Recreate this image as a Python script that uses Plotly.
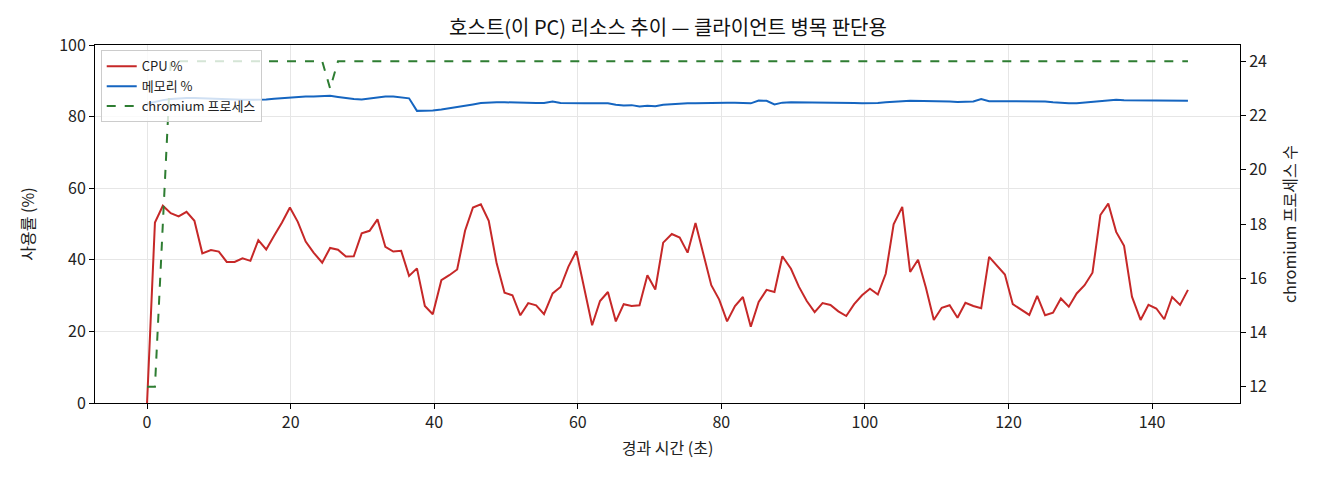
import plotly.graph_objects as go

# elapsed seconds of each sample
ELAPSED = [0.0, 1.1, 2.2, 3.3, 4.4, 5.5, 6.6, 7.7, 8.9, 10.0, 11.1, 12.2, 13.3, 14.4, 15.5, 16.6, 17.7, 18.8, 19.9, 21.0,
           22.1, 23.2, 24.4, 25.5, 26.6, 27.7, 28.8, 29.9, 31.0, 32.1, 33.2, 34.3, 35.4, 36.5, 37.6, 38.7, 39.8, 41.0, 42.1, 43.2,
           44.3, 45.4, 46.5, 47.6, 48.7, 49.8, 50.9, 52.0, 53.1, 54.2, 55.3, 56.5, 57.6, 58.7, 59.8, 60.9, 62.0, 63.1, 64.2, 65.3,
           66.4, 67.5, 68.6, 69.7, 70.8, 71.9, 73.1, 74.2, 75.3, 76.4, 77.5, 78.6, 79.7, 80.8, 81.9, 83.0, 84.1, 85.2, 86.3, 87.4,
           88.5, 89.7, 90.8, 91.9, 93.0, 94.1, 95.2, 96.3, 97.4, 98.5, 99.6, 100.7, 101.8, 102.9, 104.0, 105.2, 106.3, 107.4, 108.5, 109.6,
           110.7, 111.8, 112.9, 114.0, 115.1, 116.2, 117.3, 118.4, 119.5, 120.6, 121.8, 122.9, 124.0, 125.1, 126.2, 127.3, 128.4, 129.5, 130.6, 131.7,
           132.8, 133.9, 135.0, 136.1, 137.2, 138.4, 139.5, 140.6, 141.7, 142.8, 143.9, 145.0]

CPU = [0.0, 50.4, 55.1, 53.0, 52.1, 53.4, 50.9, 41.8, 42.7, 42.3, 39.4, 39.4, 40.4, 39.7, 45.5, 42.9, 46.7, 50.4, 54.6, 50.6,
       45.1, 42.0, 39.2, 43.3, 42.8, 40.9, 41.0, 47.4, 48.1, 51.3, 43.6, 42.3, 42.5, 35.5, 37.6, 27.1, 24.8, 34.3, 35.7, 37.3,
       48.1, 54.6, 55.5, 50.9, 39.0, 30.8, 30.1, 24.5, 27.9, 27.3, 24.8, 30.6, 32.4, 38.1, 42.4, 32.2, 21.7, 28.5, 31.0, 22.8,
       27.6, 27.1, 27.3, 35.7, 31.7, 44.8, 47.2, 46.2, 42.0, 50.3, 41.5, 32.9, 28.9, 22.8, 27.1, 29.6, 21.3, 28.2, 31.6, 31.0,
       41.0, 37.5, 32.5, 28.5, 25.4, 27.9, 27.4, 25.6, 24.3, 27.6, 30.1, 31.9, 30.3, 36.1, 49.9, 54.8, 36.6, 40.0, 32.2, 23.2,
       26.6, 27.3, 23.8, 28.0, 27.1, 26.5, 40.8, 38.3, 35.9, 27.6, 26.1, 24.6, 29.9, 24.5, 25.2, 29.2, 26.9, 30.6, 32.9, 36.4,
       52.5, 55.7, 47.8, 43.9, 29.7, 23.2, 27.4, 26.4, 23.4, 29.6, 27.4, 31.6]

MEM = [83.6, 84.2, 84.6, 84.9, 85.1, 85.2, 85.2, 85.1, 85.0, 84.9, 84.8, 84.7, 84.7, 84.7, 84.7, 84.8, 85.0, 85.2, 85.4, 85.5,
       85.6, 85.6, 85.7, 85.8, 85.5, 85.1, 84.9, 84.8, 85.1, 85.5, 85.6, 85.6, 85.4, 85.1, 81.6, 81.6, 81.7, 82.0, 82.3, 82.6,
       83.0, 83.4, 83.8, 84.0, 84.0, 84.0, 83.9, 83.9, 83.8, 83.8, 83.8, 84.2, 83.8, 83.7, 83.7, 83.7, 83.7, 83.7, 83.7, 83.3,
       83.1, 83.2, 82.8, 83.0, 82.9, 83.3, 83.5, 83.6, 83.7, 83.7, 83.8, 83.8, 83.9, 83.9, 83.9, 83.8, 83.7, 84.5, 84.4, 83.4,
       83.9, 84.0, 84.0, 84.0, 84.0, 84.0, 83.9, 83.8, 83.8, 83.8, 83.7, 83.7, 83.8, 84.0, 84.2, 84.3, 84.4, 84.4, 84.4, 84.3,
       84.3, 84.2, 84.1, 84.1, 84.2, 84.9, 84.3, 84.3, 84.3, 84.3, 84.3, 84.3, 84.3, 84.2, 84.0, 83.8, 83.7, 83.7, 83.9, 84.2,
       84.5, 84.7, 84.7, 84.6, 84.6, 84.6, 84.5, 84.4, 84.4, 84.4, 84.4, 84.4]

PROCS = [12, 12, 18, 24, 24, 24, 24, 24, 24, 24, 24, 24, 24, 24, 24, 24, 24, 24, 24, 24,
         24, 24, 24, 23, 24, 24, 24, 24, 24, 24, 24, 24, 24, 24, 24, 24, 24, 24, 24, 24,
         24, 24, 24, 24, 24, 24, 24, 24, 24, 24, 24, 24, 24, 24, 24, 24, 24, 24, 24, 24,
         24, 24, 24, 24, 24, 24, 24, 24, 24, 24, 24, 24, 24, 24, 24, 24, 24, 24, 24, 24,
         24, 24, 24, 24, 24, 24, 24, 24, 24, 24, 24, 24, 24, 24, 24, 24, 24, 24, 24, 24,
         24, 24, 24, 24, 24, 24, 24, 24, 24, 24, 24, 24, 24, 24, 24, 24, 24, 24, 24, 24,
         24, 24, 24, 24, 24, 24, 24, 24, 24, 24, 24, 24]

FONT = "Noto Sans CJK KR"
RED = '#c62828'
BLUE = '#1565c0'
GREEN = '#2e7d32'
GRID = '#e6e6e6'

fig = go.Figure()
fig.add_trace(go.Scatter(x=ELAPSED, y=CPU, mode="lines", name="CPU %", line=dict(color=RED, width=2)))
fig.add_trace(go.Scatter(x=ELAPSED, y=MEM, mode="lines", name="메모리 %", line=dict(color=BLUE, width=2)))
fig.add_trace(go.Scatter(x=ELAPSED, y=PROCS, mode="lines", name="chromium 프로세스", yaxis="y2",
                         line=dict(color=GREEN, width=2, dash="dash")))

axis_common = dict(showline=True, linecolor="black", linewidth=1, mirror=False, ticks="outside", ticklen=5,
                   tickcolor="black", zeroline=False, tickfont=dict(size=16, color="#222"))

# the page body adds an 8px offset, margins are set with that in mind
fig.update_layout(
    width=1320, height=480,
    margin=dict(l=87, r=88, t=37, b=85),
    paper_bgcolor="white", plot_bgcolor="white",
    font=dict(family=FONT, color="#222"),
    title=dict(text="호스트(이 PC) 리소스 추이 — 클라이언트 병목 판단용", x=0.5, xanchor="center",
               y=0.958, yanchor="middle", font=dict(size=20, color="#111")),
    xaxis=dict(axis_common, range=[-7.25, 152.25], tick0=0, dtick=20, showgrid=True, gridcolor=GRID,
               title=dict(text="경과 시간 (초)", font=dict(size=16), standoff=10), mirror=True),
    yaxis=dict(axis_common, range=[0, 100], dtick=20, showgrid=True, gridcolor=GRID,
               title=dict(text="사용률 (%)", font=dict(size=16), standoff=20)),
    yaxis2=dict(axis_common, overlaying="y", side="right", range=[11.4, 24.6], tick0=12, dtick=2, showgrid=False,
                title=dict(text="chromium 프로세스 수", font=dict(size=16), standoff=18)),
    legend=dict(x=0.005, y=0.985, xanchor="left", yanchor="top", bgcolor="rgba(255,255,255,0.8)",
                bordercolor="#cccccc", borderwidth=1, font=dict(size=13), itemwidth=30),
    showlegend=True,
)

fig.write_html("out.html")
